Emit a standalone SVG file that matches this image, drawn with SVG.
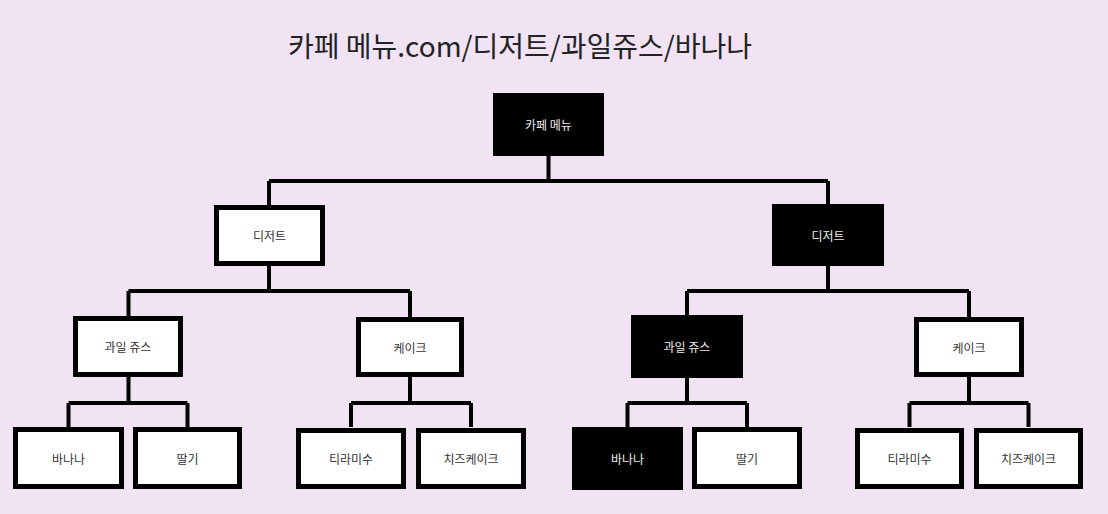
<svg xmlns="http://www.w3.org/2000/svg" width="1108" height="514" viewBox="0 0 1108 514">
<style>
.bg{fill:#F1E2F4}
.title{font-family:"Noto Sans CJK KR","Noto Sans",sans-serif;font-size:28px;fill:#222}
.n rect{stroke:#000;stroke-width:5}
.w rect{fill:#fff}
.b rect{fill:#000}
.n text{font-family:"Noto Sans CJK KR","Noto Sans",sans-serif;font-size:12px;text-anchor:middle;dominant-baseline:central}
.w text{fill:#333}
.b text{fill:#eee}
.c path{fill:none;stroke:#000;stroke-width:4}
</style>
<rect class="bg" x="0" y="0" width="1108" height="514"/>
<text class="title" x="288" y="57">카페 메뉴.com/디저트/과일쥬스/바나나</text>
<g class="c" id="connectors">
<path d="M548.5 156 V181 M269 181 H828 M269 181 V205 M828 181 V204"/>
<path d="M269 266 V291 M128.5 291 H410 M128.5 291 V316 M410 291 V317"/>
<path d="M828 266 V291 M687 291 H969 M687 291 V315 M969 291 V317"/>
<path d="M128.5 377 V403 M68.5 403 H187.5 M68.5 403 V427 M187.5 403 V427"/>
<path d="M410 377 V403 M351 403 H471 M351 403 V427 M471 403 V427"/>
<path d="M687 378 V403 M627.5 403 H747 M627.5 403 V427 M747 403 V427"/>
<path d="M969 377 V403 M909.5 403 H1028.5 M909.5 403 V427 M1028.5 403 V427"/>
</g>
<g class="n b" id="root"><rect x="495.5" y="95.5" width="106" height="58"/><text x="548.5" y="124.5">카페 메뉴</text></g>
<g class="n w" id="dessert-l"><rect x="216.5" y="207.5" width="106" height="56"/><text x="269.5" y="235.5">디저트</text></g>
<g class="n b" id="dessert-r"><rect x="774.5" y="206.5" width="107" height="57"/><text x="828" y="235">디저트</text></g>
<g class="n w" id="juice-l"><rect x="75.5" y="318.5" width="105" height="56"/><text x="128" y="346.5">과일 쥬스</text></g>
<g class="n w" id="cake-l"><rect x="358.5" y="319.5" width="103" height="55"/><text x="410" y="347">케이크</text></g>
<g class="n b" id="juice-r"><rect x="633.5" y="317.5" width="107" height="58"/><text x="687" y="346.5">과일 쥬스</text></g>
<g class="n w" id="cake-r"><rect x="916.5" y="319.5" width="105" height="55"/><text x="969" y="347">케이크</text></g>
<g class="n w" id="banana-l"><rect x="15.5" y="429.5" width="106" height="57"/><text x="68.5" y="458">바나나</text></g>
<g class="n w" id="straw-l"><rect x="135.5" y="429.5" width="104" height="57"/><text x="187.5" y="458">딸기</text></g>
<g class="n w" id="tira-l"><rect x="298.5" y="430.5" width="105" height="56"/><text x="351" y="458.5">티라미수</text></g>
<g class="n w" id="cheese-l"><rect x="418.5" y="430.5" width="105" height="56"/><text x="471" y="458.5">치즈케이크</text></g>
<g class="n b" id="banana-r"><rect x="574.5" y="429.5" width="106" height="58"/><text x="627.5" y="458.5">바나나</text></g>
<g class="n w" id="straw-r"><rect x="694.5" y="429.5" width="105" height="57"/><text x="747" y="458">딸기</text></g>
<g class="n w" id="tira-r"><rect x="857.5" y="430.5" width="104" height="56"/><text x="909.5" y="458.5">티라미수</text></g>
<g class="n w" id="cheese-r"><rect x="976.5" y="430.5" width="104" height="56"/><text x="1028.5" y="458.5">치즈케이크</text></g>
</svg>
